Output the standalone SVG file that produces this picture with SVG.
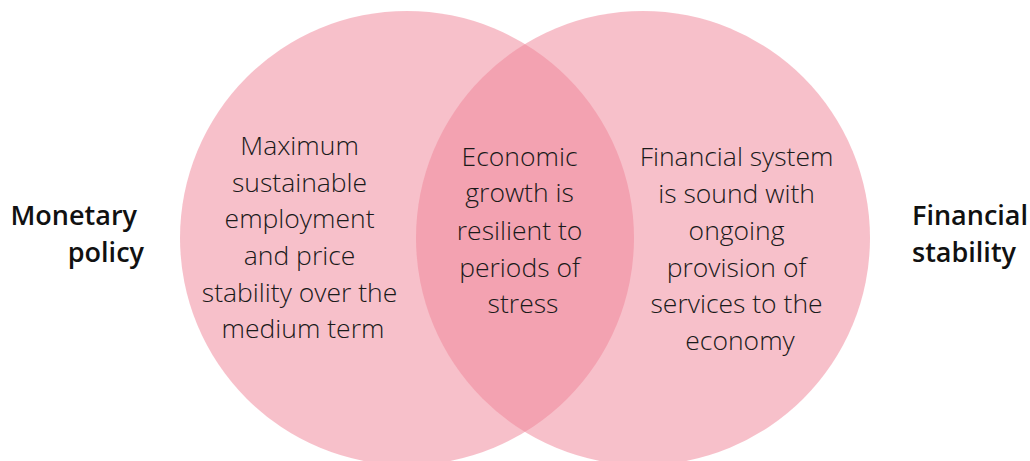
<svg xmlns="http://www.w3.org/2000/svg" width="1030" height="461" viewBox="0 0 1030 461">
  <style>
    .set { fill: #F0879A; fill-opacity: 0.52; }
    .body { font-family: "Open Sans", "Liberation Sans", sans-serif; font-weight: 300; font-size: 26.5px; fill: #1a1a1a; text-anchor: middle; }
    .label { font-family: "Open Sans", "Liberation Sans", sans-serif; font-weight: 600; font-size: 27px; fill: #111111; }
  </style>
  <rect width="1030" height="461" fill="#ffffff"/>

  <g id="monetary-policy">
    <circle class="set" cx="407" cy="238" r="227"/>
    <text class="body">
      <tspan x="303" y="155">Maximum</tspan>
      <tspan x="303" y="192">sustainable</tspan>
      <tspan x="303" y="228">employment</tspan>
      <tspan x="303" y="265">and price</tspan>
      <tspan x="303" y="302">stability over the</tspan>
      <tspan x="303" y="338">medium term</tspan>
    </text>
    <text class="label" text-anchor="end">
      <tspan x="144" y="225">Monetary</tspan>
      <tspan x="144" y="262">policy</tspan>
    </text>
  </g>

  <g id="financial-stability">
    <circle class="set" cx="643" cy="238" r="227"/>
    <text class="body">
      <tspan x="740" y="166">Financial system</tspan>
      <tspan x="740" y="203">is sound with</tspan>
      <tspan x="740" y="240">ongoing</tspan>
      <tspan x="740" y="277">provision of</tspan>
      <tspan x="740" y="313">services to the</tspan>
      <tspan x="740" y="350">economy</tspan>
    </text>
    <text class="label" text-anchor="start">
      <tspan x="912" y="225">Financial</tspan>
      <tspan x="912" y="262">stability</tspan>
    </text>
  </g>

  <g id="overlap">
    <text class="body">
      <tspan x="523" y="166">Economic</tspan>
      <tspan x="523" y="202">growth is</tspan>
      <tspan x="523" y="240">resilient to</tspan>
      <tspan x="523" y="277">periods of</tspan>
      <tspan x="523" y="313">stress</tspan>
    </text>
  </g>

  <g id="connectors"/>
</svg>
